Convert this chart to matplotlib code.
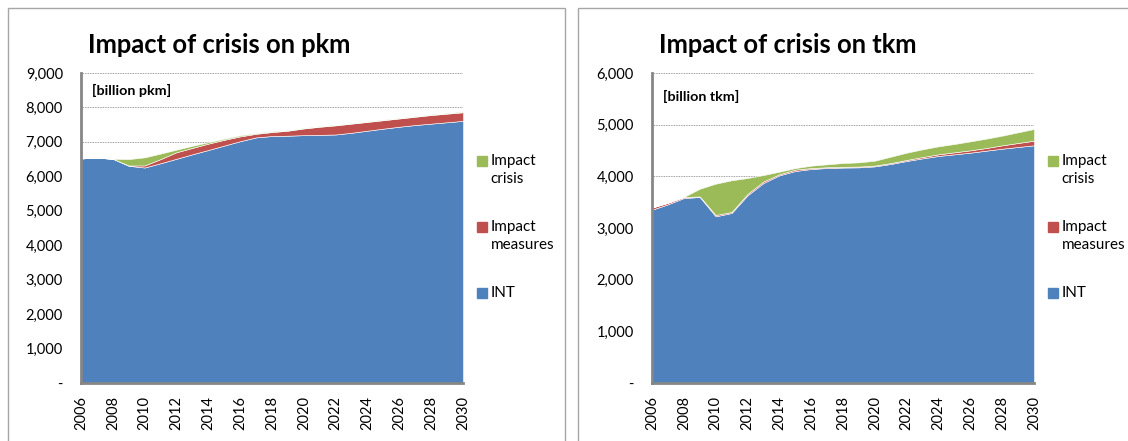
import matplotlib.pyplot as plt
from matplotlib.patches import Rectangle
from matplotlib.ticker import FuncFormatter

plt.rcParams['font.family'] = ['Lato', 'DejaVu Sans']

years = list(range(2006, 2031))

# passenger transport, billion pkm
pkm_int = [6520, 6540, 6510, 6305, 6256, 6380, 6510, 6640, 6765, 6893, 7020, 7130, 7170,
           7180, 7195, 7205, 7215, 7265, 7325, 7385, 7440, 7490, 7530, 7570, 7610]
pkm_measures = [0, 0, 0, 10, 60, 120, 190, 185, 185, 167, 140, 105, 115,
                145, 195, 235, 265, 265, 255, 245, 240, 240, 250, 250, 250]
pkm_crisis = [0, 0, 0, 185, 235, 160, 75, 60, 40, 30, 30, 20, 20,
              15, 15, 15, 15, 15, 15, 15, 15, 15, 15, 15, 20]

# freight transport, billion tkm
tkm_int = [3355, 3458, 3580, 3600, 3226, 3290, 3632, 3871, 4019, 4103, 4142, 4161, 4170,
           4174, 4193, 4239, 4297, 4348, 4394, 4426, 4458, 4497, 4535, 4568, 4600]
tkm_measures = [40, 30, 20, 10, 25, 20, 28, 29, 21, 27, 18, 15, 15,
                15, 15, 18, 20, 26, 32, 39, 45, 51, 65, 77, 90]
tkm_crisis = [0, 0, 0, 150, 607, 613, 308, 125, 50, 30, 46, 56, 73,
              81, 95, 123, 141, 149, 155, 161, 174, 181, 187, 207, 226]

labels = ['INT', 'Impact\nmeasures', 'Impact\ncrisis']
colors = ['#4F81BD', '#C0504D', '#9BBB59']


def fmt(v, pos):
    if v == 0:
        return '-'
    return f'{v:,.0f}'


def draw_panel(ax, series, ymax, step, unit, unit_y, title):
    ax.stackplot(years, *series, colors=colors, edgecolor='white', linewidth=0.4, zorder=2)
    ax.set_xlim(2006, 2030)
    ax.set_ylim(0, ymax)
    ax.set_yticks(range(0, ymax + 1, step))
    ax.yaxis.set_major_formatter(FuncFormatter(fmt))
    ax.set_xticks(range(2006, 2031, 2))
    ax.tick_params(axis='x', rotation=90, length=0, pad=9, labelsize=10.5)
    ax.tick_params(axis='y', length=0, pad=13, labelsize=10.5)
    ax.grid(axis='y', color='#808080', linestyle=(0, (1, 1)), linewidth=0.6, zorder=0)
    ax.set_axisbelow(True)
    for s in ['top', 'right']:
        ax.spines[s].set_visible(False)
    for s in ['left', 'bottom']:
        ax.spines[s].set_color('#868686')
        ax.spines[s].set_linewidth(2)
        ax.spines[s].set_zorder(3)
    ax.text(0.029, unit_y, unit, transform=ax.transAxes, fontsize=10.3, fontweight='bold',
            va='center', ha='left')
    ax.text(0.018, 1.09, title, transform=ax.transAxes, fontsize=18.4, fontweight='bold',
            va='center', ha='left')

    # legend drawn by hand so the box sits on the first text line, like Excel
    h = ax.bbox.height
    for i, (lab, col) in enumerate(zip(labels[::-1], colors[::-1])):
        y = 0.716 - i * 0.213
        ax.add_patch(Rectangle((1.037, y - 5 / h), 10 / ax.bbox.width, 10 / h,
                               transform=ax.transAxes, color=col, clip_on=False))
        for j, line in enumerate(lab.split('\n')):
            ax.text(1.072, y - j * 18.3 / h, line, transform=ax.transAxes, fontsize=11,
                    va='center', ha='left')


fig = plt.figure(figsize=(11.28, 4.41), dpi=100)

fig.patches.append(Rectangle((8 / 1128, -0.1), 557 / 1128, 1.1 - 8 / 441, transform=fig.transFigure,
                             fill=False, edgecolor='#A6A6A6', linewidth=1))
fig.patches.append(Rectangle((578 / 1128, -0.1), 0.6, 1.1 - 8 / 441, transform=fig.transFigure,
                             fill=False, edgecolor='#A6A6A6', linewidth=1))

ax1 = fig.add_axes([81 / 1128, 1 - 383 / 441, 382 / 1128, 310 / 441])
draw_panel(ax1, [pkm_int, pkm_measures, pkm_crisis], 9000, 1000, '[billion pkm]', 0.942,
           'Impact of crisis on pkm')

ax2 = fig.add_axes([652 / 1128, 1 - 383 / 441, 382 / 1128, 310 / 441])
draw_panel(ax2, [tkm_int, tkm_measures, tkm_crisis], 6000, 1000, '[billion tkm]', 0.923,
           'Impact of crisis on tkm')

fig.savefig('out.png', dpi=100)
